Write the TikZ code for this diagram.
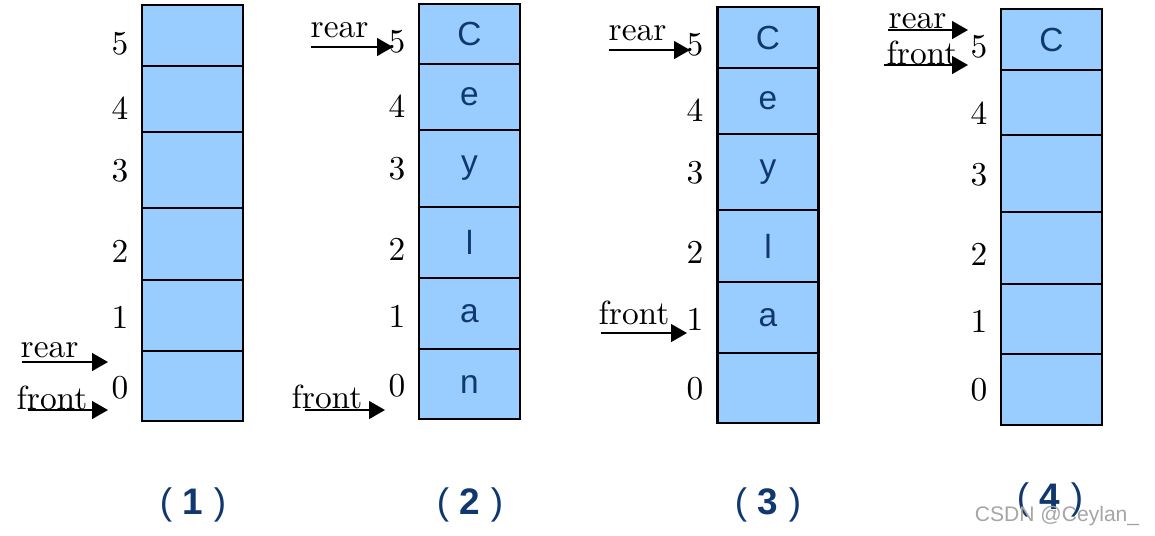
\documentclass[tikz,border=0pt]{standalone}
\usepackage{fontspec}
\newfontfamily\arialfont{Liberation Sans}
\usepackage{xcolor}
\usepackage{tikz}
\usetikzlibrary{arrows.meta, positioning}
\definecolor{cellblue}{RGB}{153, 204, 255}
\definecolor{textnavy}{RGB}{16, 56, 110}
\definecolor{markgray}{RGB}{165, 165, 165}

\begin{document}
\begin{tikzpicture}[x=0.01cm, y=-0.01cm,
    cell/.style={draw=black, line width=0.6pt, fill=cellblue, minimum width=1.01cm,
                 inner sep=0pt, font=\arialfont\fontsize{9.5}{10}\selectfont, text=textnavy},
    idx/.style={inner sep=0pt, font=\fontsize{9.5}{10}\selectfont},
    ptr/.style={-{Triangle[length=4.5pt, width=5pt]}, line width=0.6pt},
    ptrlabel/.style={anchor=west, inner sep=0pt, font=\fontsize{9.5}{10}\selectfont},
    caption/.style={font=\arialfont\fontsize{10.5}{11}\selectfont, text=textnavy}
]
    \useasboundingbox (0,0) rectangle (1155,535);

    % Queue (1)
    \foreach \i/\t/\b/\c in {0/351/421/,1/280/351/,2/208/280/,3/132/208/,4/66/132/,5/5/66/}
        \node[cell, minimum height={(\b-\t)*0.01cm}] (qa\i) at (192.5,{(\t+\b)/2}) {\c};
    \foreach \i/\y in {0/388,1/317,2/251,3/171,4/108,5/44}
        \node[idx] (na\i) at (120,\y) {\i};

    % Queue (2)
    \foreach \i/\t/\b/\c in {0/349/419/n,1/278/349/a,2/207/278/l,3/130/207/y,4/64/130/e,5/4/64/C}
        \node[cell, minimum height={(\b-\t)*0.01cm}] (qb\i) at (469.5,{(\t+\b)/2}) {\c};
    \foreach \i/\y in {0/386,1/316,2/249,3/169,4/106,5/42}
        \node[idx] (nb\i) at (397,\y) {\i};

    % Queue (3)
    \foreach \i/\t/\b/\c in {0/353/423/,1/282/353/a,2/210/282/l,3/134/210/y,4/68/134/e,5/7/68/C}
        \node[cell, minimum height={(\b-\t)*0.01cm}] (qc\i) at (768,{(\t+\b)/2}) {\c};
    \foreach \i/\y in {0/389,1/319,2/252,3/173,4/110,5/45}
        \node[idx] (nc\i) at (695,\y) {\i};

    % Queue (4)
    \foreach \i/\t/\b/\c in {0/354/425/,1/284/354/,2/212/284/,3/135/212/,4/70/135/,5/9/70/C}
        \node[cell, minimum height={(\b-\t)*0.01cm}] (qd\i) at (1051.5,{(\t+\b)/2}) {\c};
    \foreach \i/\y in {0/390,1/321,2/254,3/175,4/113,5/47}
        \node[idx] (nd\i) at (979,\y) {\i};

    % Pointers (1)
    \coordinate (rsa) at (22,362);  \coordinate (rea) at (108,362);
    \coordinate (fsa) at (28,410);  \coordinate (fea) at (108,410);
    \draw[ptr] (rsa) -- (rea);
    \draw[ptr] (fsa) -- (fea);
    \node[ptrlabel] (rla) at (20,350) {rear};
    \node[ptrlabel] (fla) at (16,398) {front};

    % Pointers (2)
    \coordinate (rsb) at (311,47);  \coordinate (reb) at (393,47);
    \coordinate (fsb) at (305,410); \coordinate (feb) at (385,410);
    \draw[ptr] (rsb) -- (reb);
    \draw[ptr] (fsb) -- (feb);
    \node[ptrlabel] (rlb) at (310,30) {rear};
    \node[ptrlabel] (flb) at (291,397) {front};

    % Pointers (3)
    \coordinate (rsc) at (609,50);  \coordinate (rec) at (690,50);
    \coordinate (fsc) at (601,333); \coordinate (fec) at (687,333);
    \draw[ptr] (rsc) -- (rec);
    \draw[ptr] (fsc) -- (fec);
    \node[ptrlabel] (rlc) at (608,33) {rear};
    \node[ptrlabel] (flc) at (598,313) {front};

    % Pointers (4)
    \coordinate (rsd) at (888,30);  \coordinate (red) at (968,30);
    \coordinate (fsd) at (884,65);  \coordinate (fed) at (968,65);
    \draw[ptr] (rsd) -- (red);
    \draw[ptr] (fsd) -- (fed);
    \node[ptrlabel] (rld) at (888,21) {rear};
    \node[ptrlabel] (fld) at (886,53) {front};

    % Captions
    \node[caption] (capa) at (193,505) {(\hspace{3pt}\textbf{1}\hspace{3pt})};
    \node[caption] (capb) at (470,505) {(\hspace{3pt}\textbf{2}\hspace{3pt})};
    \node[caption] (capc) at (768,505) {(\hspace{3pt}\textbf{3}\hspace{3pt})};
    \node[caption] (capd) at (1050,500) {(\hspace{3pt}\textbf{4}\hspace{3pt})};
    \node[font=\arialfont\fontsize{6}{7}\selectfont, text=markgray] (mark) at (1057,516) {CSDN @Ceylan\_};
\end{tikzpicture}
\end{document}
